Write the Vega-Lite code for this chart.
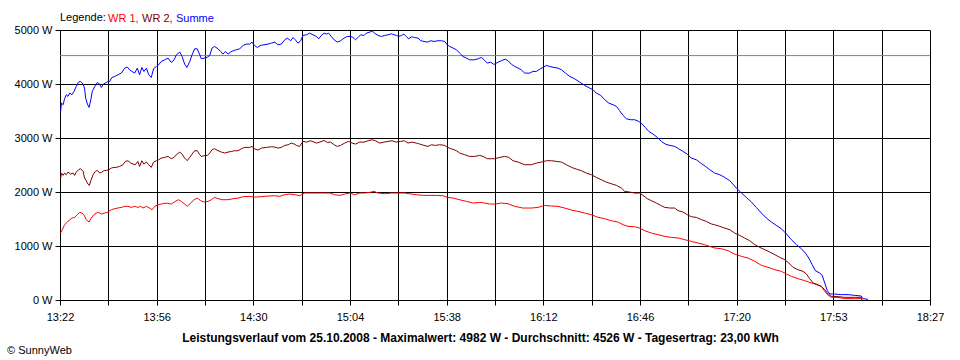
{
  "$schema": "https://vega.github.io/schema/vega-lite/v6.json",
  "autosize": "none",
  "width": 870,
  "height": 270,
  "padding": {"left": 60, "top": 30, "right": 30, "bottom": 60},
  "background": "white",
  "config": {
    "font": "Liberation Sans",
    "view": {"stroke": null},
    "axis": {
      "domainColor": "black",
      "tickColor": "black",
      "gridColor": "black",
      "gridOpacity": 1,
      "labelColor": "black",
      "labelFontSize": 11,
      "tickSize": 5,
      "labelFlush": false,
      "labelOverlap": false
    }
  },
  "title": {
    "text": "© SunnyWeb",
    "orient": "bottom",
    "anchor": "start",
    "frame": "bounds",
    "fontSize": 11,
    "fontWeight": "normal",
    "color": "black",
    "offset": 2,
    "dx": -7
  },
  "datasets": {
    "WR1": [
      {"min": 802.2, "W": 1240}, {"min": 803.1, "W": 1333}, {"min": 803.6, "W": 1394}, {"min": 804.6, "W": 1444},
      {"min": 805.4, "W": 1487}, {"min": 806.2, "W": 1518}, {"min": 807.1, "W": 1530}, {"min": 808.1, "W": 1580},
      {"min": 808.9, "W": 1623}, {"min": 809.7, "W": 1610}, {"min": 810.4, "W": 1580}, {"min": 811.2, "W": 1487},
      {"min": 812.2, "W": 1444}, {"min": 813.0, "W": 1518}, {"min": 813.9, "W": 1580}, {"min": 814.7, "W": 1610},
      {"min": 815.6, "W": 1623}, {"min": 816.5, "W": 1592}, {"min": 817.7, "W": 1610}, {"min": 818.8, "W": 1629},
      {"min": 820.0, "W": 1672}, {"min": 821.2, "W": 1691}, {"min": 822.3, "W": 1703}, {"min": 823.5, "W": 1715},
      {"min": 824.7, "W": 1734}, {"min": 825.8, "W": 1734}, {"min": 827.0, "W": 1715}, {"min": 828.2, "W": 1734},
      {"min": 829.3, "W": 1715}, {"min": 830.3, "W": 1734}, {"min": 831.1, "W": 1703}, {"min": 832.3, "W": 1734},
      {"min": 833.4, "W": 1703}, {"min": 834.3, "W": 1672}, {"min": 835.2, "W": 1734}, {"min": 836.4, "W": 1765},
      {"min": 837.5, "W": 1777}, {"min": 839.3, "W": 1795}, {"min": 841.0, "W": 1777}, {"min": 842.4, "W": 1826},
      {"min": 843.6, "W": 1857}, {"min": 844.5, "W": 1826}, {"min": 845.7, "W": 1777}, {"min": 846.6, "W": 1734},
      {"min": 847.8, "W": 1795}, {"min": 849.0, "W": 1857}, {"min": 850.1, "W": 1888}, {"min": 851.3, "W": 1839},
      {"min": 852.5, "W": 1814}, {"min": 853.9, "W": 1826}, {"min": 855.1, "W": 1857}, {"min": 856.2, "W": 1900},
      {"min": 857.4, "W": 1876}, {"min": 859.1, "W": 1857}, {"min": 860.9, "W": 1857}, {"min": 862.7, "W": 1876},
      {"min": 864.4, "W": 1888}, {"min": 866.2, "W": 1913}, {"min": 868.5, "W": 1919}, {"min": 870.2, "W": 1906},
      {"min": 872.6, "W": 1913}, {"min": 874.9, "W": 1925}, {"min": 877.3, "W": 1931}, {"min": 879.0, "W": 1919},
      {"min": 880.8, "W": 1950}, {"min": 882.5, "W": 1962}, {"min": 884.3, "W": 1950}, {"min": 886.0, "W": 1931},
      {"min": 887.8, "W": 1981}, {"min": 890.1, "W": 1981}, {"min": 892.5, "W": 1981}, {"min": 894.8, "W": 1981},
      {"min": 896.6, "W": 1981}, {"min": 898.3, "W": 1950}, {"min": 900.1, "W": 1937}, {"min": 901.8, "W": 1962},
      {"min": 903.6, "W": 1981}, {"min": 905.3, "W": 1950}, {"min": 907.1, "W": 1981}, {"min": 908.8, "W": 1981},
      {"min": 910.6, "W": 1993}, {"min": 912.1, "W": 2011}, {"min": 913.5, "W": 1981}, {"min": 915.8, "W": 1968},
      {"min": 918.2, "W": 1981}, {"min": 920.5, "W": 1981}, {"min": 922.8, "W": 1981}, {"min": 925.2, "W": 1962},
      {"min": 926.9, "W": 1950}, {"min": 929.3, "W": 1937}, {"min": 931.6, "W": 1937}, {"min": 933.9, "W": 1937},
      {"min": 936.3, "W": 1931}, {"min": 937.8, "W": 1900}, {"min": 939.8, "W": 1888}, {"min": 942.1, "W": 1857},
      {"min": 944.5, "W": 1826}, {"min": 946.8, "W": 1795}, {"min": 949.1, "W": 1808}, {"min": 950.9, "W": 1795},
      {"min": 952.6, "W": 1777}, {"min": 954.4, "W": 1777}, {"min": 956.7, "W": 1795}, {"min": 959.1, "W": 1783},
      {"min": 961.4, "W": 1734}, {"min": 964.3, "W": 1703}, {"min": 967.3, "W": 1703}, {"min": 969.6, "W": 1715},
      {"min": 971.9, "W": 1752}, {"min": 974.3, "W": 1740}, {"min": 976.6, "W": 1734}, {"min": 978.9, "W": 1703},
      {"min": 981.3, "W": 1666}, {"min": 983.6, "W": 1641}, {"min": 985.9, "W": 1610}, {"min": 988.3, "W": 1580},
      {"min": 990.6, "W": 1530}, {"min": 993.0, "W": 1505}, {"min": 995.3, "W": 1468}, {"min": 997.6, "W": 1444},
      {"min": 999.4, "W": 1394}, {"min": 1001.1, "W": 1364}, {"min": 1003.5, "W": 1357}, {"min": 1005.2, "W": 1333},
      {"min": 1007.0, "W": 1283}, {"min": 1009.3, "W": 1240}, {"min": 1011.7, "W": 1209}, {"min": 1014.0, "W": 1178},
      {"min": 1016.3, "W": 1160}, {"min": 1018.7, "W": 1148}, {"min": 1021.0, "W": 1117}, {"min": 1023.3, "W": 1086},
      {"min": 1025.7, "W": 1055}, {"min": 1028.0, "W": 1024}, {"min": 1030.4, "W": 981}, {"min": 1031.5, "W": 963},
      {"min": 1033.9, "W": 950}, {"min": 1036.2, "W": 913}, {"min": 1038.5, "W": 851}, {"min": 1040.9, "W": 808},
      {"min": 1043.2, "W": 777}, {"min": 1045.6, "W": 716}, {"min": 1047.9, "W": 642}, {"min": 1050.2, "W": 605},
      {"min": 1052.6, "W": 561}, {"min": 1054.9, "W": 531}, {"min": 1056.7, "W": 481}, {"min": 1058.4, "W": 438},
      {"min": 1060.7, "W": 395}, {"min": 1063.1, "W": 358}, {"min": 1065.4, "W": 315}, {"min": 1067.2, "W": 296},
      {"min": 1068.9, "W": 253}, {"min": 1070.1, "W": 160}, {"min": 1071.3, "W": 86}, {"min": 1072.4, "W": 49},
      {"min": 1074.8, "W": 49}, {"min": 1077.1, "W": 25}, {"min": 1080.6, "W": 25}, {"min": 1082.9, "W": 25},
      {"min": 1083.2, "W": 0}
    ],
    "WR2": [
      {"min": 802.2, "W": 2246}, {"min": 802.5, "W": 2351}, {"min": 803.1, "W": 2308}, {"min": 803.6, "W": 2351},
      {"min": 804.2, "W": 2320}, {"min": 804.8, "W": 2369}, {"min": 805.7, "W": 2332}, {"min": 806.6, "W": 2351},
      {"min": 807.1, "W": 2308}, {"min": 807.7, "W": 2369}, {"min": 808.5, "W": 2412}, {"min": 809.2, "W": 2431},
      {"min": 810.1, "W": 2382}, {"min": 810.6, "W": 2258}, {"min": 811.2, "W": 2209}, {"min": 811.8, "W": 2147},
      {"min": 812.3, "W": 2122}, {"min": 812.8, "W": 2209}, {"min": 813.6, "W": 2320}, {"min": 814.4, "W": 2382},
      {"min": 815.1, "W": 2400}, {"min": 815.9, "W": 2351}, {"min": 816.5, "W": 2363}, {"min": 817.4, "W": 2394},
      {"min": 818.2, "W": 2400}, {"min": 819.1, "W": 2412}, {"min": 820.0, "W": 2443}, {"min": 820.9, "W": 2456},
      {"min": 821.7, "W": 2456}, {"min": 822.9, "W": 2474}, {"min": 824.1, "W": 2505}, {"min": 824.9, "W": 2567},
      {"min": 825.8, "W": 2579}, {"min": 826.8, "W": 2536}, {"min": 827.6, "W": 2517}, {"min": 828.4, "W": 2505},
      {"min": 829.3, "W": 2567}, {"min": 829.9, "W": 2474}, {"min": 830.7, "W": 2579}, {"min": 831.4, "W": 2517},
      {"min": 832.3, "W": 2554}, {"min": 833.1, "W": 2505}, {"min": 834.0, "W": 2456}, {"min": 834.8, "W": 2554},
      {"min": 835.8, "W": 2579}, {"min": 836.6, "W": 2597}, {"min": 837.5, "W": 2628}, {"min": 838.7, "W": 2641},
      {"min": 839.9, "W": 2659}, {"min": 841.0, "W": 2616}, {"min": 842.0, "W": 2641}, {"min": 842.8, "W": 2690},
      {"min": 844.0, "W": 2739}, {"min": 844.8, "W": 2702}, {"min": 845.7, "W": 2628}, {"min": 846.6, "W": 2579},
      {"min": 847.5, "W": 2641}, {"min": 848.3, "W": 2702}, {"min": 849.2, "W": 2764}, {"min": 850.1, "W": 2764},
      {"min": 851.0, "W": 2690}, {"min": 851.5, "W": 2659}, {"min": 852.5, "W": 2672}, {"min": 853.7, "W": 2678},
      {"min": 854.5, "W": 2721}, {"min": 855.3, "W": 2783}, {"min": 856.2, "W": 2801}, {"min": 857.4, "W": 2764},
      {"min": 858.6, "W": 2739}, {"min": 859.7, "W": 2721}, {"min": 860.9, "W": 2739}, {"min": 862.1, "W": 2752},
      {"min": 863.2, "W": 2764}, {"min": 864.4, "W": 2764}, {"min": 865.6, "W": 2801}, {"min": 866.7, "W": 2826},
      {"min": 868.5, "W": 2826}, {"min": 869.3, "W": 2844}, {"min": 870.2, "W": 2801}, {"min": 871.4, "W": 2776},
      {"min": 872.6, "W": 2813}, {"min": 874.3, "W": 2826}, {"min": 876.1, "W": 2838}, {"min": 877.3, "W": 2832},
      {"min": 878.4, "W": 2813}, {"min": 879.6, "W": 2826}, {"min": 880.8, "W": 2863}, {"min": 882.0, "W": 2875},
      {"min": 883.1, "W": 2906}, {"min": 884.1, "W": 2888}, {"min": 884.9, "W": 2863}, {"min": 886.0, "W": 2844},
      {"min": 887.2, "W": 2937}, {"min": 888.4, "W": 2924}, {"min": 889.9, "W": 2949}, {"min": 891.1, "W": 2924},
      {"min": 891.9, "W": 2906}, {"min": 893.1, "W": 2924}, {"min": 894.6, "W": 2955}, {"min": 895.7, "W": 2918},
      {"min": 896.9, "W": 2924}, {"min": 898.1, "W": 2875}, {"min": 899.2, "W": 2844}, {"min": 900.4, "W": 2863},
      {"min": 901.8, "W": 2906}, {"min": 903.2, "W": 2937}, {"min": 904.4, "W": 2906}, {"min": 905.6, "W": 2888},
      {"min": 907.1, "W": 2924}, {"min": 908.6, "W": 2924}, {"min": 910.0, "W": 2949}, {"min": 911.4, "W": 2968},
      {"min": 912.6, "W": 2949}, {"min": 914.1, "W": 2906}, {"min": 915.6, "W": 2924}, {"min": 917.0, "W": 2937},
      {"min": 918.4, "W": 2949}, {"min": 919.9, "W": 2924}, {"min": 921.4, "W": 2937}, {"min": 922.8, "W": 2949},
      {"min": 924.0, "W": 2906}, {"min": 925.4, "W": 2924}, {"min": 926.9, "W": 2906}, {"min": 928.1, "W": 2888},
      {"min": 929.6, "W": 2863}, {"min": 931.0, "W": 2844}, {"min": 932.2, "W": 2875}, {"min": 933.6, "W": 2863},
      {"min": 935.1, "W": 2875}, {"min": 936.9, "W": 2863}, {"min": 937.8, "W": 2826}, {"min": 939.2, "W": 2801},
      {"min": 941.0, "W": 2764}, {"min": 942.1, "W": 2721}, {"min": 943.9, "W": 2690}, {"min": 945.6, "W": 2659},
      {"min": 947.4, "W": 2659}, {"min": 949.1, "W": 2678}, {"min": 950.3, "W": 2659}, {"min": 951.8, "W": 2616},
      {"min": 953.2, "W": 2616}, {"min": 954.4, "W": 2616}, {"min": 956.2, "W": 2641}, {"min": 957.9, "W": 2659},
      {"min": 959.3, "W": 2641}, {"min": 960.8, "W": 2579}, {"min": 962.6, "W": 2554}, {"min": 964.9, "W": 2505},
      {"min": 967.3, "W": 2505}, {"min": 969.0, "W": 2536}, {"min": 970.8, "W": 2554}, {"min": 972.5, "W": 2579},
      {"min": 974.3, "W": 2579}, {"min": 976.0, "W": 2567}, {"min": 977.8, "W": 2554}, {"min": 979.5, "W": 2505},
      {"min": 981.3, "W": 2456}, {"min": 983.0, "W": 2425}, {"min": 984.8, "W": 2394}, {"min": 986.5, "W": 2351},
      {"min": 988.3, "W": 2320}, {"min": 990.0, "W": 2271}, {"min": 991.8, "W": 2227}, {"min": 993.5, "W": 2184},
      {"min": 995.3, "W": 2153}, {"min": 997.1, "W": 2122}, {"min": 998.8, "W": 2073}, {"min": 1000.0, "W": 2011},
      {"min": 1001.7, "W": 1999}, {"min": 1003.5, "W": 1981}, {"min": 1005.2, "W": 1981}, {"min": 1006.4, "W": 1937},
      {"min": 1007.9, "W": 1876}, {"min": 1009.3, "W": 1839}, {"min": 1011.1, "W": 1795}, {"min": 1012.6, "W": 1752},
      {"min": 1014.0, "W": 1715}, {"min": 1015.8, "W": 1703}, {"min": 1017.5, "W": 1703}, {"min": 1018.7, "W": 1654},
      {"min": 1020.4, "W": 1629}, {"min": 1021.9, "W": 1580}, {"min": 1023.3, "W": 1542}, {"min": 1025.1, "W": 1530},
      {"min": 1026.9, "W": 1487}, {"min": 1028.6, "W": 1456}, {"min": 1030.4, "W": 1407}, {"min": 1031.5, "W": 1394},
      {"min": 1033.3, "W": 1364}, {"min": 1035.0, "W": 1333}, {"min": 1036.8, "W": 1302}, {"min": 1038.5, "W": 1240},
      {"min": 1040.3, "W": 1197}, {"min": 1042.0, "W": 1148}, {"min": 1043.8, "W": 1098}, {"min": 1045.6, "W": 1024},
      {"min": 1047.3, "W": 975}, {"min": 1049.1, "W": 932}, {"min": 1050.8, "W": 888}, {"min": 1052.6, "W": 839},
      {"min": 1054.3, "W": 790}, {"min": 1056.1, "W": 747}, {"min": 1057.5, "W": 685}, {"min": 1059.0, "W": 605},
      {"min": 1060.7, "W": 561}, {"min": 1062.5, "W": 531}, {"min": 1063.7, "W": 481}, {"min": 1064.8, "W": 395},
      {"min": 1066.0, "W": 315}, {"min": 1067.2, "W": 284}, {"min": 1068.9, "W": 253}, {"min": 1070.1, "W": 191},
      {"min": 1071.3, "W": 111}, {"min": 1072.4, "W": 68}, {"min": 1074.8, "W": 62}, {"min": 1077.1, "W": 49},
      {"min": 1080.6, "W": 49}, {"min": 1082.9, "W": 49}, {"min": 1083.2, "W": 6}
    ],
    "Summe": [
      {"min": 802.2, "W": 3480}, {"min": 802.5, "W": 3647}, {"min": 803.1, "W": 3616}, {"min": 803.6, "W": 3727},
      {"min": 804.2, "W": 3801}, {"min": 804.8, "W": 3770}, {"min": 805.4, "W": 3832}, {"min": 806.2, "W": 3801},
      {"min": 806.9, "W": 3862}, {"min": 807.7, "W": 3955}, {"min": 808.5, "W": 4035}, {"min": 809.2, "W": 4048},
      {"min": 810.1, "W": 3998}, {"min": 810.6, "W": 3924}, {"min": 811.0, "W": 3739}, {"min": 811.6, "W": 3628},
      {"min": 812.2, "W": 3566}, {"min": 812.8, "W": 3708}, {"min": 813.3, "W": 3862}, {"min": 814.2, "W": 3955},
      {"min": 815.1, "W": 4029}, {"min": 815.9, "W": 3998}, {"min": 816.5, "W": 3936}, {"min": 817.2, "W": 3998},
      {"min": 817.9, "W": 4017}, {"min": 818.8, "W": 4048}, {"min": 819.4, "W": 4048}, {"min": 820.2, "W": 4121},
      {"min": 821.2, "W": 4140}, {"min": 822.3, "W": 4171}, {"min": 823.5, "W": 4202}, {"min": 824.7, "W": 4294},
      {"min": 825.6, "W": 4313}, {"min": 826.4, "W": 4263}, {"min": 827.2, "W": 4233}, {"min": 828.2, "W": 4202},
      {"min": 829.1, "W": 4294}, {"min": 829.9, "W": 4171}, {"min": 830.7, "W": 4307}, {"min": 831.4, "W": 4233},
      {"min": 832.3, "W": 4294}, {"min": 833.1, "W": 4171}, {"min": 834.0, "W": 4121}, {"min": 834.8, "W": 4282},
      {"min": 835.8, "W": 4325}, {"min": 836.6, "W": 4356}, {"min": 837.5, "W": 4418}, {"min": 838.7, "W": 4448},
      {"min": 839.9, "W": 4479}, {"min": 841.0, "W": 4399}, {"min": 842.0, "W": 4448}, {"min": 842.8, "W": 4541},
      {"min": 844.0, "W": 4590}, {"min": 844.8, "W": 4510}, {"min": 845.7, "W": 4368}, {"min": 846.5, "W": 4307},
      {"min": 847.5, "W": 4418}, {"min": 848.3, "W": 4541}, {"min": 849.2, "W": 4652}, {"min": 850.1, "W": 4652},
      {"min": 851.0, "W": 4541}, {"min": 851.5, "W": 4467}, {"min": 852.5, "W": 4479}, {"min": 853.7, "W": 4498},
      {"min": 854.5, "W": 4529}, {"min": 855.3, "W": 4665}, {"min": 856.2, "W": 4695}, {"min": 857.4, "W": 4652},
      {"min": 858.3, "W": 4603}, {"min": 859.1, "W": 4553}, {"min": 860.0, "W": 4603}, {"min": 860.9, "W": 4553},
      {"min": 861.8, "W": 4590}, {"min": 862.7, "W": 4615}, {"min": 863.8, "W": 4634}, {"min": 865.0, "W": 4652},
      {"min": 866.2, "W": 4714}, {"min": 867.3, "W": 4739}, {"min": 868.5, "W": 4739}, {"min": 869.3, "W": 4776},
      {"min": 870.2, "W": 4714}, {"min": 871.2, "W": 4677}, {"min": 872.3, "W": 4714}, {"min": 873.5, "W": 4726},
      {"min": 874.9, "W": 4739}, {"min": 876.1, "W": 4757}, {"min": 877.3, "W": 4776}, {"min": 878.4, "W": 4726},
      {"min": 879.6, "W": 4739}, {"min": 880.8, "W": 4819}, {"min": 881.7, "W": 4850}, {"min": 882.9, "W": 4801},
      {"min": 883.7, "W": 4862}, {"min": 884.5, "W": 4819}, {"min": 885.4, "W": 4757}, {"min": 886.4, "W": 4801},
      {"min": 887.2, "W": 4899}, {"min": 888.4, "W": 4911}, {"min": 889.5, "W": 4942}, {"min": 890.7, "W": 4911},
      {"min": 891.9, "W": 4880}, {"min": 892.7, "W": 4837}, {"min": 893.6, "W": 4899}, {"min": 894.6, "W": 4942},
      {"min": 895.4, "W": 4924}, {"min": 896.2, "W": 4942}, {"min": 897.1, "W": 4880}, {"min": 898.1, "W": 4819},
      {"min": 899.2, "W": 4776}, {"min": 900.4, "W": 4801}, {"min": 901.6, "W": 4850}, {"min": 902.7, "W": 4880},
      {"min": 903.9, "W": 4880}, {"min": 904.7, "W": 4862}, {"min": 905.6, "W": 4819}, {"min": 906.5, "W": 4862},
      {"min": 907.4, "W": 4911}, {"min": 908.6, "W": 4899}, {"min": 909.4, "W": 4942}, {"min": 910.6, "W": 4961},
      {"min": 911.4, "W": 4982}, {"min": 912.3, "W": 4942}, {"min": 913.5, "W": 4899}, {"min": 914.7, "W": 4880},
      {"min": 915.8, "W": 4899}, {"min": 917.0, "W": 4911}, {"min": 918.2, "W": 4930}, {"min": 919.1, "W": 4911},
      {"min": 920.0, "W": 4899}, {"min": 920.7, "W": 4880}, {"min": 921.7, "W": 4899}, {"min": 922.6, "W": 4924},
      {"min": 923.4, "W": 4880}, {"min": 924.2, "W": 4837}, {"min": 925.2, "W": 4874}, {"min": 926.3, "W": 4862},
      {"min": 927.5, "W": 4850}, {"min": 928.5, "W": 4801}, {"min": 929.6, "W": 4788}, {"min": 930.8, "W": 4776},
      {"min": 932.0, "W": 4801}, {"min": 933.1, "W": 4788}, {"min": 934.5, "W": 4801}, {"min": 935.7, "W": 4801},
      {"min": 936.9, "W": 4788}, {"min": 937.7, "W": 4726}, {"min": 938.6, "W": 4695}, {"min": 939.8, "W": 4665},
      {"min": 941.0, "W": 4634}, {"min": 942.1, "W": 4572}, {"min": 943.3, "W": 4510}, {"min": 944.5, "W": 4479},
      {"min": 945.6, "W": 4448}, {"min": 947.2, "W": 4448}, {"min": 948.6, "W": 4467}, {"min": 949.7, "W": 4492},
      {"min": 950.7, "W": 4448}, {"min": 951.8, "W": 4387}, {"min": 953.0, "W": 4405}, {"min": 953.9, "W": 4368},
      {"min": 954.4, "W": 4368}, {"min": 955.6, "W": 4405}, {"min": 956.7, "W": 4430}, {"min": 958.1, "W": 4461},
      {"min": 959.1, "W": 4430}, {"min": 960.2, "W": 4368}, {"min": 961.4, "W": 4325}, {"min": 962.6, "W": 4294},
      {"min": 963.7, "W": 4263}, {"min": 964.9, "W": 4202}, {"min": 966.7, "W": 4202}, {"min": 967.8, "W": 4233},
      {"min": 969.0, "W": 4233}, {"min": 970.2, "W": 4276}, {"min": 971.3, "W": 4307}, {"min": 972.5, "W": 4344},
      {"min": 973.7, "W": 4325}, {"min": 975.2, "W": 4307}, {"min": 976.6, "W": 4294}, {"min": 977.8, "W": 4263},
      {"min": 979.2, "W": 4202}, {"min": 980.7, "W": 4140}, {"min": 982.4, "W": 4097}, {"min": 984.2, "W": 4035},
      {"min": 986.0, "W": 3973}, {"min": 987.7, "W": 3924}, {"min": 988.9, "W": 3893}, {"min": 990.0, "W": 3832},
      {"min": 991.6, "W": 3788}, {"min": 993.0, "W": 3708}, {"min": 994.4, "W": 3646}, {"min": 995.9, "W": 3616},
      {"min": 997.1, "W": 3585}, {"min": 998.2, "W": 3505}, {"min": 999.4, "W": 3418}, {"min": 1000.6, "W": 3356},
      {"min": 1002.1, "W": 3338}, {"min": 1003.5, "W": 3338}, {"min": 1004.9, "W": 3307}, {"min": 1006.1, "W": 3258},
      {"min": 1007.2, "W": 3196}, {"min": 1008.4, "W": 3122}, {"min": 1009.9, "W": 3073}, {"min": 1011.4, "W": 3011},
      {"min": 1012.8, "W": 2937}, {"min": 1014.2, "W": 2888}, {"min": 1015.8, "W": 2863}, {"min": 1017.5, "W": 2844},
      {"min": 1018.9, "W": 2801}, {"min": 1020.4, "W": 2752}, {"min": 1021.9, "W": 2702}, {"min": 1023.3, "W": 2628},
      {"min": 1025.1, "W": 2597}, {"min": 1026.6, "W": 2536}, {"min": 1028.3, "W": 2474}, {"min": 1029.8, "W": 2412},
      {"min": 1031.5, "W": 2351}, {"min": 1033.3, "W": 2320}, {"min": 1035.0, "W": 2271}, {"min": 1036.8, "W": 2209},
      {"min": 1037.9, "W": 2147}, {"min": 1039.1, "W": 2073}, {"min": 1040.9, "W": 1981}, {"min": 1042.6, "W": 1900},
      {"min": 1044.4, "W": 1814}, {"min": 1046.1, "W": 1715}, {"min": 1047.9, "W": 1610}, {"min": 1049.6, "W": 1518},
      {"min": 1051.4, "W": 1444}, {"min": 1053.1, "W": 1382}, {"min": 1054.9, "W": 1320}, {"min": 1056.7, "W": 1222},
      {"min": 1058.4, "W": 1117}, {"min": 1060.2, "W": 1024}, {"min": 1061.9, "W": 950}, {"min": 1063.3, "W": 870},
      {"min": 1064.5, "W": 777}, {"min": 1065.7, "W": 654}, {"min": 1066.8, "W": 543}, {"min": 1068.3, "W": 500},
      {"min": 1069.2, "W": 457}, {"min": 1070.1, "W": 315}, {"min": 1071.0, "W": 173}, {"min": 1071.9, "W": 111},
      {"min": 1073.6, "W": 111}, {"min": 1075.9, "W": 99}, {"min": 1078.3, "W": 99}, {"min": 1080.6, "W": 86},
      {"min": 1082.9, "W": 74}, {"min": 1083.5, "W": 25}, {"min": 1085.3, "W": 12}
    ],
    "Mittel": [{"Durchschnitt": 4526}]
  },
  "encoding": {
    "x": {
      "field": "min",
      "type": "quantitative",
      "scale": {"domain": [802, 1107], "nice": false, "zero": false},
      "axis": {
        "title": "Leistungsverlauf vom 25.10.2008 - Maximalwert: 4982 W - Durchschnitt: 4526 W - Tagesertrag: 23,00 kWh",
        "titleFontSize": 12,
        "titleFontWeight": "bold",
        "titleColor": "black",
        "titleX": 420,
        "titlePadding": 10,
        "values": [802, 818.944, 835.889, 852.833, 869.778, 886.722, 903.667, 920.611, 937.556, 954.5, 971.444, 988.389, 1005.333, 1022.278, 1039.222, 1056.167, 1073.111, 1090.056, 1107],
        "labelExpr": "['13:22','','13:56','','14:30','','15:04','','15:38','','16:12','','16:46','','17:20','','17:53','','18:27'][round((datum.value-802)*18/305)]",
        "labelPadding": 6,
        "grid": true
      }
    },
    "y": {
      "field": "W",
      "type": "quantitative",
      "scale": {"domain": [0, 5000], "nice": false},
      "axis": {
        "title": null,
        "values": [0, 1000, 2000, 3000, 4000, 5000],
        "labelExpr": "datum.value + ' W'",
        "labelPadding": 3,
        "grid": true
      }
    }
  },
  "layer": [
    {
      "data": {"name": "Mittel"},
      "mark": {"type": "rule", "color": "#808080", "strokeWidth": 1},
      "encoding": {"x": null, "y": {"field": "Durchschnitt", "type": "quantitative"}}
    },
    {
      "data": {"name": "WR1"},
      "mark": {"type": "line", "strokeWidth": 1},
      "encoding": {
        "color": {
          "datum": "WR 1",
          "type": "nominal",
          "scale": {"domain": ["WR 1", "WR 2", "Summe"], "range": ["#ff0000", "#800000", "#0000ff"]},
          "legend": {
            "orient": "top",
            "direction": "horizontal",
            "title": "Legende:",
            "titleOrient": "left",
            "titleFontSize": 11,
            "titleFontWeight": "normal",
            "titleColor": "black",
            "titlePadding": 4,
            "labelFontSize": 11,
            "symbolType": "circle",
            "symbolSize": 0,
            "symbolOpacity": 0,
            "symbolStrokeWidth": 0,
            "labelOffset": -13,
            "gridAlign": "none",
            "columnPadding": 3,
            "offset": 6,
            "padding": 0,
            "labelExpr": "datum.label == 'Summe' ? datum.label : datum.label + ','",
            "encode": {
              "labels": {
                "update": {
                  "fill": {"signal": "datum.value == 'WR 1' ? '#ff0000' : datum.value == 'WR 2' ? '#800000' : '#0000ff'"}
                }
              }
            }
          }
        }
      }
    },
    {
      "data": {"name": "WR2"},
      "mark": {"type": "line", "strokeWidth": 1},
      "encoding": {"color": {"datum": "WR 2", "type": "nominal"}}
    },
    {
      "data": {"name": "Summe"},
      "mark": {"type": "line", "strokeWidth": 1},
      "encoding": {"color": {"datum": "Summe", "type": "nominal"}}
    }
  ]
}
